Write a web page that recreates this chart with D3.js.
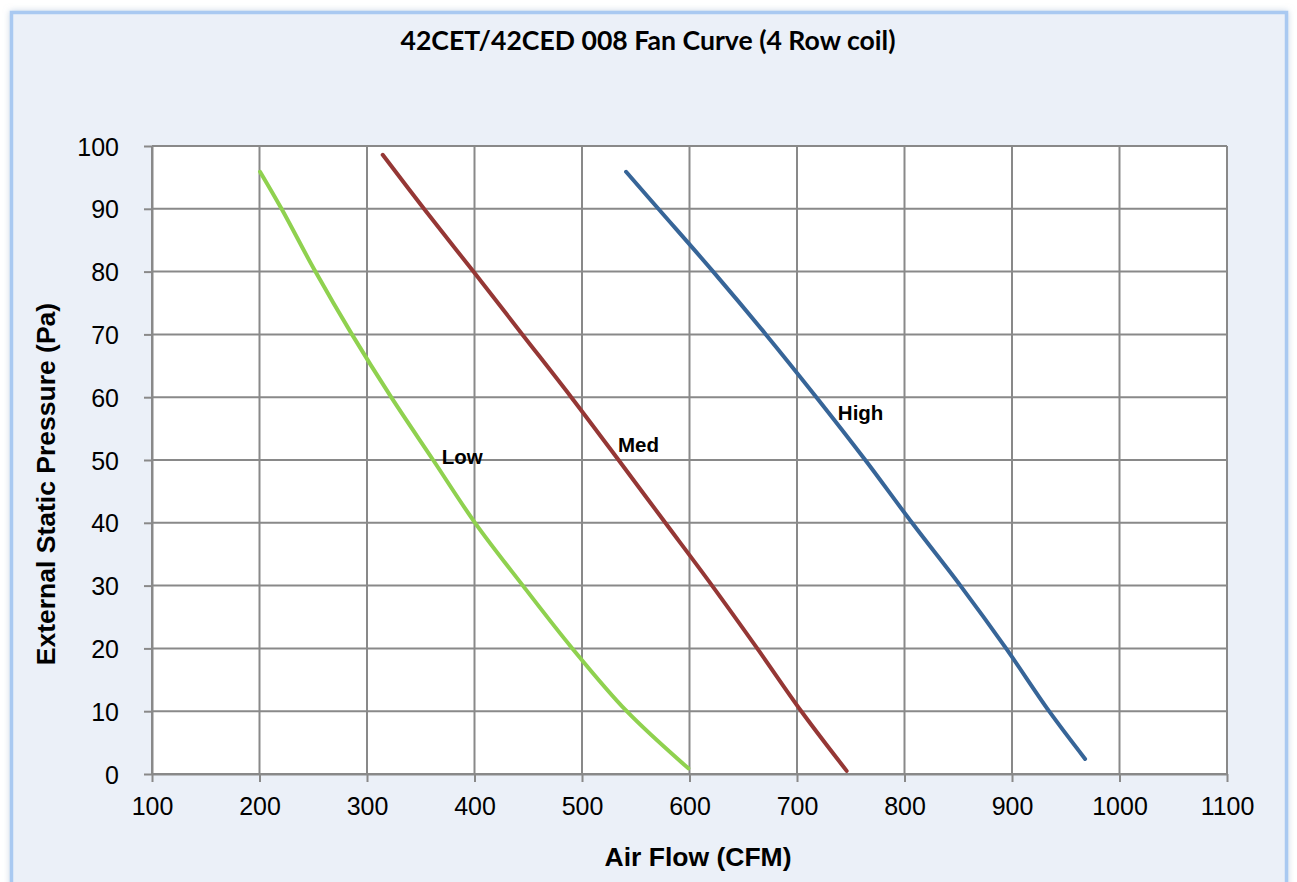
<!DOCTYPE html>
<html>
<head>
<meta charset="utf-8">
<script src="https://cdn.jsdelivr.net/npm/d3@7"></script>
<style>
  html, body { margin: 0; padding: 0; background: #ffffff; }
  svg { display: block; }
</style>
</head>
<body>
<svg id="chart" width="1297" height="882"></svg>
<script>
// ---- data ----
const titleText = "42CET/42CED 008 Fan Curve (4 Row coil)";
const xAxisTitle = "Air Flow (CFM)";
const yAxisTitle = "External Static Pressure (Pa)";
const xTicks = [100, 200, 300, 400, 500, 600, 700, 800, 900, 1000, 1100];
const yTicks = [0, 10, 20, 30, 40, 50, 60, 70, 80, 90, 100];
const seriesNames = ["Low", "Med", "High"];
const lowCFM  = [200.5, 220.5, 252, 286, 322.5, 361.5, 400.5, 445, 491, 541.6, 598.9];
const lowPa   = [95.9, 90, 80, 70, 60, 50, 40, 30, 20, 10, 0.9];
const medCFM  = [314.6, 353, 399, 444.5, 490, 534, 577.5, 621, 663, 704, 746.2];
const medPa   = [98.6, 90, 80, 70, 60, 50, 40, 30, 20, 10, 0.5];
const highCFM = [541, 571, 622, 671, 718, 763.5, 807, 852, 894.5, 934.5, 968];
const highPa  = [95.9, 90, 80, 70, 60, 50, 40, 30, 20, 10, 2.4];
const labelCFM = [369.5, 533.5, 738];
const labelPa  = [49.4, 51.3, 56.4];

// ---- styles ----
const colors = ["#8fd14f", "#953735", "#376598"];

const svg = d3.select("#chart");
const defs = svg.append("defs");
const f = defs.append("filter").attr("id", "glow").attr("x", "-5%").attr("y", "-5%").attr("width", "110%").attr("height", "110%");
f.append("feGaussianBlur").attr("in", "SourceAlpha").attr("stdDeviation", 3).attr("result", "b");
f.append("feFlood").attr("flood-color", "#9db4cf").attr("flood-opacity", 0.55);
f.append("feComposite").attr("in2", "b").attr("operator", "in").attr("result", "s");
const fm = f.append("feMerge");
fm.append("feMergeNode").attr("in", "s");
fm.append("feMergeNode").attr("in", "SourceGraphic");

// chart area
svg.append("rect")
  .attr("x", 11.5).attr("y", 12.5).attr("width", 1275).attr("height", 900)
  .attr("fill", "#ebf0f8").attr("stroke", "#a9c9f1").attr("stroke-width", 3.5)
  .attr("filter", "url(#glow)");

const L = 152, R = 1227, T = 146, B = 774;
const x = d3.scaleLinear().domain([100, 1100]).range([L, R]);
const y = d3.scaleLinear().domain([0, 100]).range([B, T]);

// plot area
svg.append("rect").attr("x", L).attr("y", T).attr("width", R - L).attr("height", B - T).attr("fill", "#ffffff");

const gridColor = "#898989";
const grid = svg.append("g");
grid.selectAll(".hg").data(yTicks).join("line")
  .attr("x1", L).attr("x2", R).attr("y1", d => y(d)).attr("y2", d => y(d))
  .attr("stroke", gridColor).attr("stroke-width", 2);
grid.selectAll(".vg").data(xTicks).join("line")
  .attr("y1", T).attr("y2", B).attr("x1", d => x(d)).attr("x2", d => x(d))
  .attr("stroke", gridColor).attr("stroke-width", 2);

// axes
const xAxis = d3.axisBottom(x).tickValues(xTicks).tickSize(8).tickPadding(15).tickSizeOuter(0).tickFormat(d3.format("d"));
const yAxis = d3.axisLeft(y).tickValues(yTicks).tickSize(8).tickPadding(25).tickSizeOuter(0).tickFormat(d3.format("d"));

const gx = svg.append("g").attr("transform", `translate(0,${B})`).call(xAxis);
const gy = svg.append("g").attr("transform", `translate(${L},0)`).call(yAxis);
[gx, gy].forEach(g => {
  g.selectAll("path").attr("stroke", gridColor).attr("stroke-width", 2);
  g.selectAll("line").attr("stroke", gridColor).attr("stroke-width", 2);
  g.selectAll("text").attr("fill", "#000").attr("font-family", "'Liberation Sans', Arial, sans-serif").attr("font-size", 25);
});
gy.selectAll("text").attr("dy", "0.36em");

// series
const series = [
  lowCFM.map((c, i) => [c, lowPa[i]]),
  medCFM.map((c, i) => [c, medPa[i]]),
  highCFM.map((c, i) => [c, highPa[i]])
];
const line = d3.line().x(d => x(d[0])).y(d => y(d[1])).curve(d3.curveCatmullRom.alpha(0.5));
svg.append("g").selectAll("path").data(series).join("path")
  .attr("d", line).attr("fill", "none")
  .attr("stroke", (d, i) => colors[i]).attr("stroke-width", 4)
  .attr("stroke-linecap", "round").attr("stroke-linejoin", "round");

// series labels
svg.append("g").selectAll("text").data(seriesNames).join("text")
  .attr("x", (d, i) => x(labelCFM[i])).attr("y", (d, i) => y(labelPa[i]))
  .attr("font-family", "'Liberation Sans', Arial, sans-serif").attr("font-weight", "bold")
  .attr("font-size", 20.5).attr("fill", "#000").text(d => d);

// title
svg.append("text")
  .attr("x", 648).attr("y", 50).attr("text-anchor", "middle")
  .attr("font-family", "Lato, 'Open Sans', sans-serif").attr("font-weight", "bold")
  .attr("font-size", 27).attr("fill", "#000")
  .attr("textLength", 495).attr("lengthAdjust", "spacingAndGlyphs")
  .text(titleText);

// axis titles
svg.append("text").attr("x", 698).attr("y", 866).attr("text-anchor", "middle")
  .attr("font-family", "'Liberation Sans', Arial, sans-serif").attr("font-weight", "bold")
  .attr("font-size", 26.5).attr("fill", "#000").text(xAxisTitle);
svg.append("text").attr("transform", "translate(55,484) rotate(-90)").attr("text-anchor", "middle")
  .attr("font-family", "'Liberation Sans', Arial, sans-serif").attr("font-weight", "bold")
  .attr("font-size", 26.5).attr("fill", "#000").text(yAxisTitle);
</script>
</body>
</html>
